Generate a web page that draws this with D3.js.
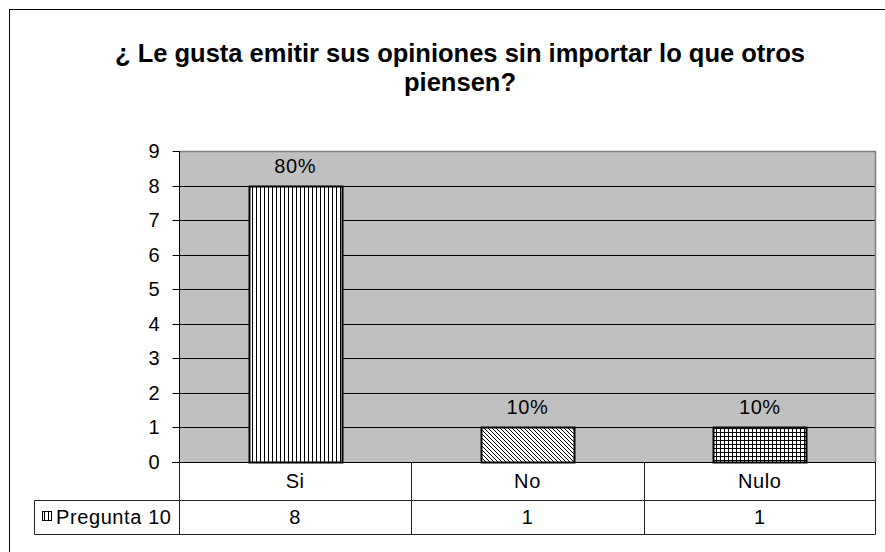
<!DOCTYPE html>
<html>
<head>
<meta charset="utf-8">
<script src="https://cdn.jsdelivr.net/npm/d3@7"></script>
<style>
  html, body { margin: 0; padding: 0; background: #fff; }
  svg { display: block; font-family: "Liberation Sans", Arial, sans-serif; }
</style>
</head>
<body>
<svg id="chart" width="885" height="552"></svg>
<script>
// Survey question 10: answer counts per option
const titleLines = ["¿ Le gusta emitir sus opiniones sin importar lo que otros", "piensen?"];
const categories = ["Si", "No", "Nulo"];
const seriesName = "Pregunta 10";
const values = [8, 1, 1];
const percentLabels = ["80%", "10%", "10%"];
const yTicks = [0, 1, 2, 3, 4, 5, 6, 7, 8, 9];
const patterns = ["pat-vert", "pat-diag", "pat-grid"];

const labelSize = 20;
const labelSpacing = 0.6;

const svg = d3.select("#chart");
const defs = svg.append("defs");

// Fill patterns for the three bars
const pv = defs.append("pattern").attr("id", "pat-vert").attr("patternUnits", "userSpaceOnUse")
  .attr("width", 4).attr("height", 4);
pv.append("rect").attr("width", 4).attr("height", 4).attr("fill", "#fff");
pv.append("rect").attr("x", 0).attr("width", 1).attr("height", 4).attr("fill", "#000");

const pd = defs.append("pattern").attr("id", "pat-diag").attr("patternUnits", "userSpaceOnUse")
  .attr("width", 4).attr("height", 4);
pd.append("rect").attr("width", 4).attr("height", 4).attr("fill", "#fff");
pd.append("path").attr("d", "M-1,-1 L5,5 M-1,3 L1,5 M3,-1 L5,1")
  .attr("stroke", "#000").attr("stroke-width", 1);

const pg = defs.append("pattern").attr("id", "pat-grid").attr("patternUnits", "userSpaceOnUse")
  .attr("width", 4).attr("height", 4);
pg.append("rect").attr("width", 4).attr("height", 4).attr("fill", "#fff");
pg.append("rect").attr("x", 0).attr("y", 0).attr("width", 4).attr("height", 1).attr("fill", "#000");
pg.append("rect").attr("x", 0).attr("y", 0).attr("width", 1).attr("height", 4).attr("fill", "#000");

// Chart border
svg.append("rect").attr("x", 9.5).attr("y", 9.5).attr("width", 900).attr("height", 600)
  .attr("fill", "#fff").attr("stroke", "#000");

// Title
const title = svg.append("text").attr("text-anchor", "middle")
  .attr("font-size", 25.5).attr("font-weight", "bold").attr("fill", "#000");
titleLines.forEach((t, i) => {
  title.append("tspan").attr("x", 460).attr("y", 62 + i * 29).text(t);
});

// Plot area geometry
const plot = { left: 179, right: 876, top: 151, bottom: 462 };
const x = d3.scaleBand().domain(categories).range([plot.left, plot.right]).paddingInner(0).paddingOuter(0);
const y = d3.scaleLinear().domain([0, 9]).range([plot.bottom, plot.top]);
const barW = x.bandwidth() / 2.5;

svg.append("rect").attr("x", plot.left).attr("y", plot.top)
  .attr("width", plot.right - plot.left).attr("height", plot.bottom - plot.top)
  .attr("fill", "#c0c0c0");

// Gridlines
svg.append("g").selectAll("line").data(yTicks.filter(d => d > 0 && d < 9)).join("line")
  .attr("x1", plot.left).attr("x2", plot.right)
  .attr("y1", d => Math.round(y(d)) + 0.5).attr("y2", d => Math.round(y(d)) + 0.5)
  .attr("stroke", "#000").attr("stroke-width", 1);

// Plot area border (top and right)
svg.append("path")
  .attr("d", `M${plot.left},${plot.top + 0.5}H${plot.right - 0.5}V${plot.bottom}`)
  .attr("fill", "none").attr("stroke", "#808080").attr("stroke-width", 1.5);

// Y axis
const yAxis = d3.axisLeft(y).tickValues(yTicks).tickSize(7).tickPadding(13).tickFormat(d3.format("d"));
const gy = svg.append("g").attr("transform", `translate(${plot.left + 0.5},0)`).call(yAxis);
gy.select(".domain").attr("stroke", "#000").attr("d", `M0,${plot.top}V${plot.bottom}`);
gy.selectAll(".tick line").attr("stroke", "#000");
gy.selectAll(".tick text").attr("font-size", labelSize).attr("fill", "#000")
  .attr("font-family", "'Liberation Sans', Arial, sans-serif");
gy.selectAll(".tick").attr("transform", d => `translate(0,${Math.round(y(d)) + 0.5})`);

// Bars
svg.append("g").selectAll("rect").data(categories).join("rect")
  .attr("x", d => Math.round(x(d) + (x.bandwidth() - barW) / 2) + 0.5)
  .attr("y", (d, i) => Math.round(y(values[i])) + 0.5)
  .attr("width", Math.round(barW))
  .attr("height", (d, i) => Math.round(y(0)) - Math.round(y(values[i])))
  .attr("fill", (d, i) => `url(#${patterns[i]})`)
  .attr("stroke", "#000").attr("stroke-width", 2);

// Value labels
svg.append("g").selectAll("text").data(categories).join("text")
  .attr("x", d => x(d) + x.bandwidth() / 2)
  .attr("y", (d, i) => y(values[i]) - 13)
  .attr("text-anchor", "middle").attr("font-size", labelSize).attr("letter-spacing", labelSpacing)
  .attr("fill", "#000")
  .text((d, i) => percentLabels[i]);

// Zero line
svg.append("line").attr("x1", plot.left - 7).attr("x2", plot.right)
  .attr("y1", plot.bottom + 0.5).attr("y2", plot.bottom + 0.5).attr("stroke", "#000");

// Data table
const rowTop = plot.bottom, rowMid = 500, rowBot = 534, legendLeft = 34;
const tbl = svg.append("g").attr("stroke", "#222").attr("stroke-width", 1).attr("fill", "none");
tbl.append("path").attr("d",
  `M${legendLeft + 0.5},${rowMid + 0.5}H${plot.right - 0.5}` +
  `M${legendLeft + 0.5},${rowBot + 0.5}H${plot.right - 0.5}` +
  `M${legendLeft + 0.5},${rowMid + 0.5}V${rowBot + 0.5}` +
  `M${plot.right - 0.5},${rowTop}V${rowBot + 0.5}`);
tbl.selectAll("line.col").data(categories).join("line")
  .attr("x1", d => Math.round(x(d)) + 0.5).attr("x2", d => Math.round(x(d)) + 0.5)
  .attr("y1", rowTop).attr("y2", rowBot + 0.5);

svg.append("g").selectAll("text").data(categories).join("text")
  .attr("x", d => x(d) + x.bandwidth() / 2).attr("y", (rowTop + rowMid) / 2 + 7)
  .attr("text-anchor", "middle").attr("font-size", labelSize).attr("letter-spacing", labelSpacing)
  .attr("fill", "#000").text(d => d);

svg.append("g").selectAll("text").data(values).join("text")
  .attr("x", (d, i) => x(categories[i]) + x.bandwidth() / 2).attr("y", (rowMid + rowBot) / 2 + 7)
  .attr("text-anchor", "middle").attr("font-size", labelSize).attr("letter-spacing", labelSpacing)
  .attr("fill", "#000").text(d => d);

// Legend key and series name
svg.append("rect").attr("x", 42.5).attr("y", 511.5).attr("width", 9).attr("height", 9)
  .attr("fill", "url(#pat-vert)").attr("stroke", "#000").attr("stroke-width", 1);
svg.append("text").attr("x", 56).attr("y", (rowMid + rowBot) / 2 + 7)
  .attr("font-size", labelSize).attr("letter-spacing", labelSpacing)
  .attr("fill", "#000").text(seriesName);
</script>
</body>
</html>
